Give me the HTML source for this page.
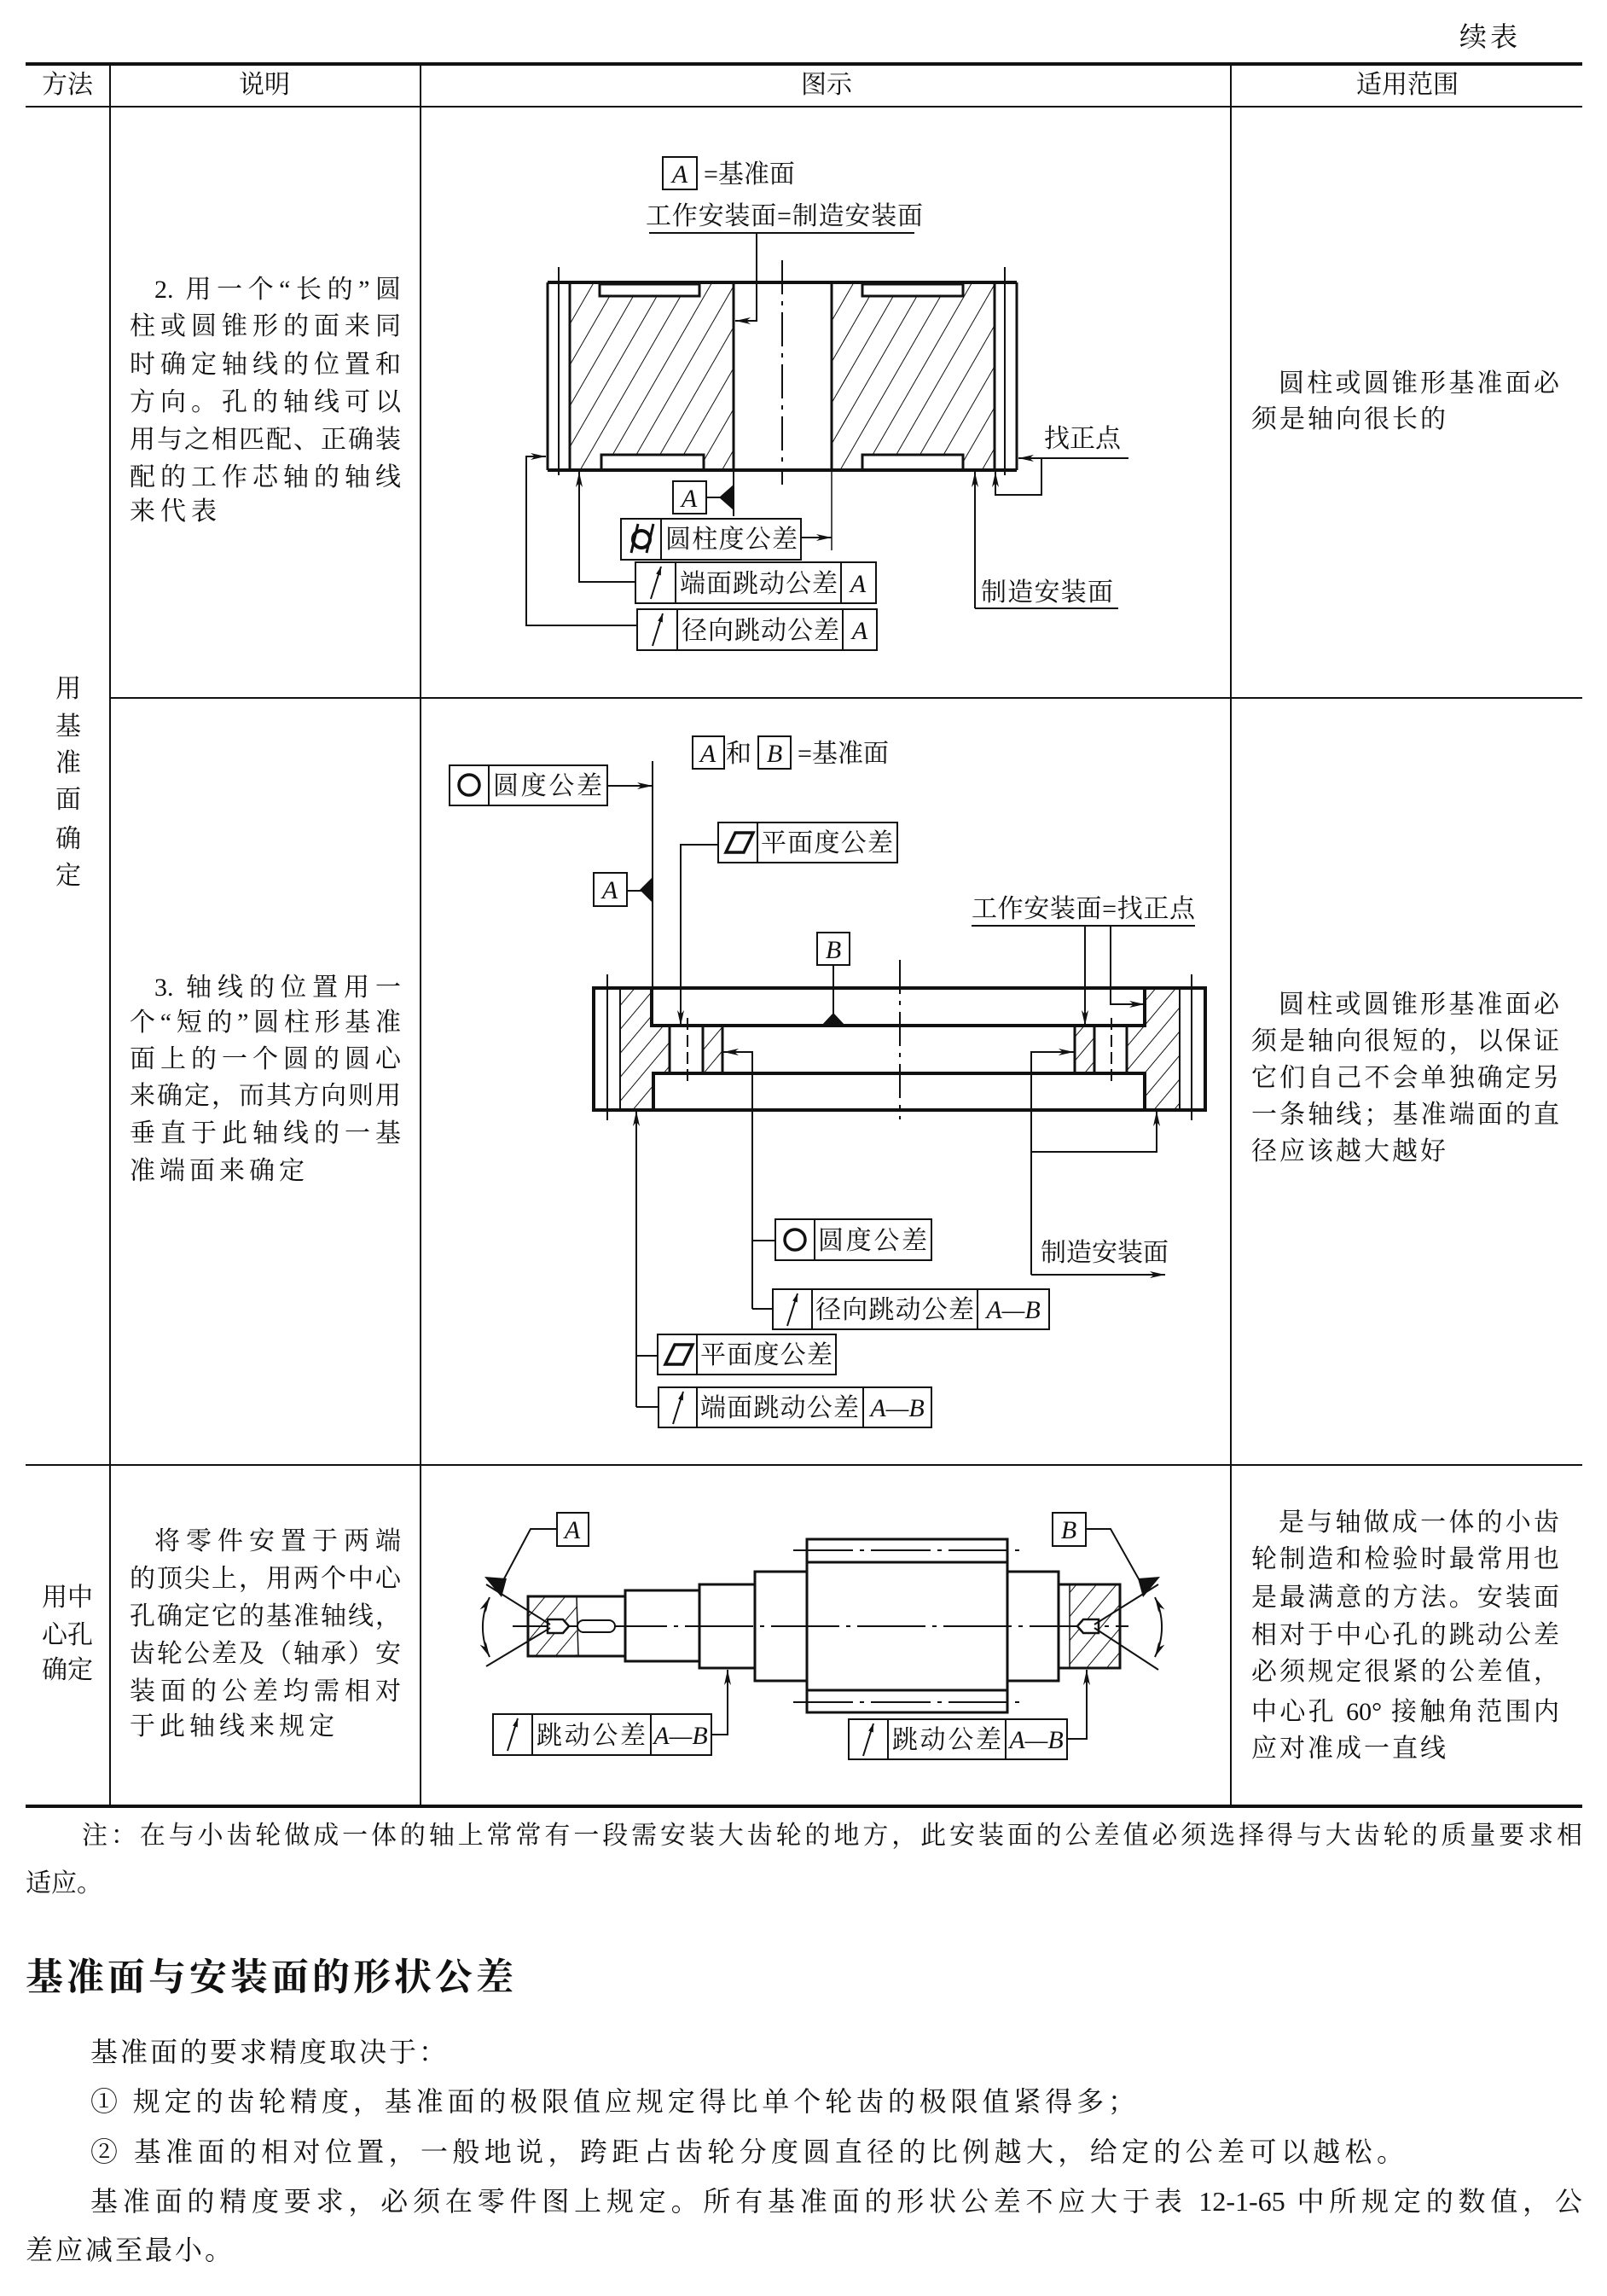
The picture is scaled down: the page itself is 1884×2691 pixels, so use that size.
<!DOCTYPE html>
<html><head><meta charset="utf-8">
<style>
html,body{margin:0;padding:0;background:#fff;}
body{width:1884px;height:2691px;position:relative;overflow:hidden;}
.t{position:absolute;white-space:nowrap;font-family:"Liberation Serif","Noto Serif CJK SC",serif;line-height:1;color:#111;}
.j{text-align:justify;text-align-last:justify;}
.c{font-size:30px;}
.p{font-size:32px;}
svg{position:absolute;left:0;top:0;}
svg text{font-family:"Liberation Serif","Noto Serif CJK SC",serif;fill:#111;}
</style></head><body>
<svg width="1884" height="2691" viewBox="0 0 1884 2691">
<defs>
<marker id="ar" markerWidth="18" markerHeight="8" refX="18" refY="4" orient="auto" markerUnits="userSpaceOnUse"><path d="M0,0 L18,4 L0,8 L5,4Z" fill="#111"/></marker>
<marker id="ars" markerWidth="18" markerHeight="8" refX="0" refY="4" orient="auto" markerUnits="userSpaceOnUse"><path d="M18,0 L0,4 L18,8 L13,4Z" fill="#111"/></marker>
<marker id="sm" markerWidth="10" markerHeight="6" refX="10" refY="3" orient="auto" markerUnits="userSpaceOnUse"><path d="M0,0 L10,3 L0,6Z" fill="#111"/></marker>
<pattern id="h1" width="24" height="24" patternUnits="userSpaceOnUse" patternTransform="rotate(30)"><line x1="0" y1="0" x2="0" y2="24" stroke="#111" stroke-width="2"/></pattern>
<pattern id="h2" width="18" height="18" patternUnits="userSpaceOnUse" patternTransform="rotate(40)"><line x1="0" y1="0" x2="0" y2="18" stroke="#111" stroke-width="2"/></pattern>
</defs>
<g stroke="#111" fill="none">
<line x1="30" y1="75" x2="1855" y2="75" stroke-width="4"/>
<line x1="30" y1="125" x2="1855" y2="125" stroke-width="2"/>
<line x1="128" y1="818" x2="1855" y2="818" stroke-width="2"/>
<line x1="30" y1="1717" x2="1855" y2="1717" stroke-width="2"/>
<line x1="30" y1="2117" x2="1855" y2="2117" stroke-width="4"/>
<line x1="129" y1="75" x2="129" y2="2117" stroke-width="2"/>
<line x1="493" y1="75" x2="493" y2="2117" stroke-width="2"/>
<line x1="1443" y1="75" x2="1443" y2="2117" stroke-width="2"/>

<rect x="668" y="331" width="192" height="220" fill="url(#h1)" stroke="none"/>
<rect x="975" y="331" width="191" height="220" fill="url(#h1)" stroke="none"/>
<rect x="703" y="333" width="117" height="14" fill="#fff" stroke-width="3"/>
<rect x="705" y="533" width="120" height="18" fill="#fff" stroke-width="3"/>
<rect x="1011" y="333" width="118" height="14" fill="#fff" stroke-width="3"/>
<rect x="1011" y="533" width="118" height="18" fill="#fff" stroke-width="3"/>
<line x1="642" y1="331" x2="1192" y2="331" stroke-width="4"/>
<line x1="642" y1="551" x2="1192" y2="551" stroke-width="4"/>
<line x1="642" y1="331" x2="642" y2="551" stroke-width="3"/>
<line x1="668" y1="331" x2="668" y2="551" stroke-width="3"/>
<line x1="860" y1="331" x2="860" y2="551" stroke-width="3"/>
<line x1="975" y1="331" x2="975" y2="551" stroke-width="3"/>
<line x1="1166" y1="331" x2="1166" y2="551" stroke-width="3"/>
<line x1="1192" y1="331" x2="1192" y2="551" stroke-width="3"/>
<line x1="655" y1="313" x2="655" y2="557" stroke-width="2"/>
<line x1="1178" y1="313" x2="1178" y2="557" stroke-width="2"/>
<line x1="917" y1="305" x2="917" y2="568" stroke-width="2" stroke-dasharray="40 8 5 8"/>
<rect x="777" y="184" width="40" height="38" stroke-width="2"/>
<line x1="761" y1="273" x2="1072" y2="273" stroke-width="2"/>
<polyline points="887,273 887,376 862,376" stroke-width="2" marker-end="url(#ar)"/>
<line x1="860" y1="551" x2="860" y2="605" stroke-width="2"/>
<rect x="789" y="564" width="39" height="38" stroke-width="2"/>
<line x1="828" y1="583" x2="845" y2="583" stroke-width="2"/>
<polygon points="860,568 860,598 843,583" fill="#111" stroke="none"/>
<rect x="728" y="608" width="211" height="48" stroke-width="2"/>
<line x1="775" y1="608" x2="775" y2="656" stroke-width="2"/>
<circle cx="752" cy="632" r="10" stroke-width="4"/>
<line x1="740" y1="648" x2="748" y2="614" stroke-width="3"/>
<line x1="758" y1="648" x2="766" y2="614" stroke-width="3"/>
<line x1="939" y1="630" x2="975" y2="630" stroke-width="2" marker-end="url(#ar)"/>
<line x1="975" y1="551" x2="975" y2="645" stroke-width="1.5"/>
<rect x="745" y="659" width="282" height="48" stroke-width="2"/>
<line x1="792" y1="659" x2="792" y2="707" stroke-width="2"/>
<line x1="986" y1="659" x2="986" y2="707" stroke-width="2"/>
<line x1="763" y1="702" x2="775" y2="664" stroke-width="2" marker-end="url(#sm)"/>
<polyline points="745,682 679,682 679,553" stroke-width="2" marker-end="url(#ar)"/>
<rect x="747" y="714" width="281" height="48" stroke-width="2"/>
<line x1="794" y1="714" x2="794" y2="762" stroke-width="2"/>
<line x1="988" y1="714" x2="988" y2="762" stroke-width="2"/>
<line x1="765" y1="757" x2="777" y2="719" stroke-width="2" marker-end="url(#sm)"/>
<polyline points="747,733 617,733 617,535 640,535" stroke-width="2" marker-end="url(#ar)"/>
<line x1="1323" y1="537" x2="1194" y2="537" stroke-width="2" marker-end="url(#ar)"/>
<polyline points="1221,537 1221,580 1167,580 1167,553" stroke-width="2" marker-end="url(#ar)"/>
<line x1="1143" y1="713" x2="1311" y2="713" stroke-width="2"/>
<line x1="1143" y1="713" x2="1143" y2="553" stroke-width="2" marker-end="url(#ar)"/>

<polygon points="727,1158 764,1158 764,1202 785,1202 785,1258 766,1258 766,1301 727,1301" fill="url(#h2)" stroke="none"/>
<polygon points="1383,1158 1342,1158 1342,1202 1321,1202 1321,1258 1342,1258 1342,1301 1383,1301" fill="url(#h2)" stroke="none"/>
<rect x="824" y="1202" width="23" height="56" fill="url(#h2)" stroke="none"/>
<rect x="1260" y="1202" width="23" height="56" fill="url(#h2)" stroke="none"/>
<rect x="696" y="1158" width="717" height="143" stroke-width="4"/>
<line x1="727" y1="1158" x2="727" y2="1301" stroke-width="2"/>
<line x1="1383" y1="1158" x2="1383" y2="1301" stroke-width="2"/>
<polyline points="764,1158 764,1202 1342,1202 1342,1158" stroke-width="4"/>
<polyline points="766,1301 766,1258 1342,1258 1342,1301" stroke-width="4"/>
<line x1="785" y1="1202" x2="785" y2="1258" stroke-width="3"/>
<line x1="824" y1="1202" x2="824" y2="1258" stroke-width="3"/>
<line x1="847" y1="1202" x2="847" y2="1258" stroke-width="3"/>
<line x1="1260" y1="1202" x2="1260" y2="1258" stroke-width="3"/>
<line x1="1283" y1="1202" x2="1283" y2="1258" stroke-width="3"/>
<line x1="1321" y1="1202" x2="1321" y2="1258" stroke-width="3"/>
<line x1="806" y1="1193" x2="806" y2="1270" stroke-width="2" stroke-dasharray="14 6"/>
<line x1="1303" y1="1193" x2="1303" y2="1270" stroke-width="2" stroke-dasharray="14 6"/>
<line x1="712" y1="1142" x2="712" y2="1313" stroke-width="2"/>
<line x1="1397" y1="1142" x2="1397" y2="1313" stroke-width="2"/>
<line x1="1055" y1="1125" x2="1055" y2="1312" stroke-width="2" stroke-dasharray="40 8 5 8"/>
<rect x="958" y="1093" width="38" height="38" stroke-width="2"/>
<line x1="977" y1="1131" x2="977" y2="1190" stroke-width="2"/>
<polygon points="963,1202 991,1202 977,1187" fill="#111" stroke="none"/>
<rect x="812" y="863" width="37" height="38" stroke-width="2"/>
<rect x="889" y="863" width="38" height="38" stroke-width="2"/>
<rect x="527" y="897" width="185" height="47" stroke-width="2"/>
<line x1="573" y1="897" x2="573" y2="944" stroke-width="2"/>
<circle cx="550" cy="920" r="12" stroke-width="3.5"/>
<line x1="712" y1="921" x2="765" y2="921" stroke-width="2" marker-end="url(#ar)"/>
<line x1="765" y1="892" x2="765" y2="1158" stroke-width="2"/>
<rect x="696" y="1023" width="39" height="39" stroke-width="2"/>
<line x1="735" y1="1044" x2="752" y2="1044" stroke-width="2"/>
<polygon points="765,1028 765,1058 750,1043" fill="#111" stroke="none"/>
<rect x="842" y="964" width="210" height="47" stroke-width="2"/>
<line x1="888" y1="964" x2="888" y2="1011" stroke-width="2"/>
<polygon points="851,999 872,999 883,976 862,976" stroke-width="3.5"/>
<polyline points="842,990 798,990 798,1202" stroke-width="2" marker-end="url(#ar)"/>
<line x1="1139" y1="1085" x2="1401" y2="1085" stroke-width="2"/>
<line x1="1272" y1="1085" x2="1272" y2="1202" stroke-width="2" marker-end="url(#ar)"/>
<polyline points="1302,1085 1302,1177 1342,1177" stroke-width="2" marker-end="url(#ar)"/>
<polyline points="882,1534 882,1233 848,1233" stroke-width="2" marker-end="url(#ar)"/>
<line x1="882" y1="1454" x2="909" y2="1454" stroke-width="2"/>
<line x1="882" y1="1534" x2="906" y2="1534" stroke-width="2"/>
<polyline points="1209,1494 1209,1233 1259,1233" stroke-width="2" marker-end="url(#ar)"/>
<line x1="1209" y1="1494" x2="1366" y2="1494" stroke-width="2" marker-end="url(#ar)"/>
<polyline points="1209,1350 1356,1350 1356,1302" stroke-width="2" marker-end="url(#ar)"/>
<line x1="746" y1="1649" x2="746" y2="1302" stroke-width="2" marker-end="url(#ar)"/>
<line x1="746" y1="1589" x2="771" y2="1589" stroke-width="2"/>
<line x1="746" y1="1649" x2="772" y2="1649" stroke-width="2"/>
<rect x="909" y="1429" width="183" height="48" stroke-width="2"/>
<line x1="955" y1="1429" x2="955" y2="1477" stroke-width="2"/>
<circle cx="932" cy="1453" r="12" stroke-width="3.5"/>
<rect x="906" y="1511" width="324" height="47" stroke-width="2"/>
<line x1="952" y1="1511" x2="952" y2="1558" stroke-width="2"/>
<line x1="1146" y1="1511" x2="1146" y2="1558" stroke-width="2"/>
<line x1="923" y1="1554" x2="935" y2="1516" stroke-width="2" marker-end="url(#sm)"/>
<rect x="771" y="1564" width="209" height="47" stroke-width="2"/>
<line x1="817" y1="1564" x2="817" y2="1611" stroke-width="2"/>
<polygon points="780,1599 801,1599 812,1576 791,1576" stroke-width="3.5"/>
<rect x="772" y="1626" width="320" height="47" stroke-width="2"/>
<line x1="817" y1="1626" x2="817" y2="1673" stroke-width="2"/>
<line x1="1012" y1="1626" x2="1012" y2="1673" stroke-width="2"/>
<line x1="789" y1="1669" x2="801" y2="1631" stroke-width="2" marker-end="url(#sm)"/>

<rect x="619" y="1871" width="57" height="70" fill="url(#h2)" stroke="none"/>
<rect x="1254" y="1857" width="59" height="98" fill="url(#h2)" stroke="none"/>
<rect x="619" y="1871" width="114" height="70" stroke-width="3"/>
<line x1="676" y1="1871" x2="678" y2="1941" stroke-width="1.5"/>
<rect x="733" y="1864" width="87" height="83" stroke-width="3"/>
<rect x="820" y="1857" width="65" height="98" stroke-width="3"/>
<rect x="885" y="1842" width="61" height="128" stroke-width="3"/>
<rect x="946" y="1804" width="235" height="203" stroke-width="3"/>
<line x1="946" y1="1831" x2="1181" y2="1831" stroke-width="3"/>
<line x1="946" y1="1981" x2="1181" y2="1981" stroke-width="3"/>
<line x1="930" y1="1817" x2="1195" y2="1817" stroke-width="2" stroke-dasharray="70 8 5 8"/>
<line x1="930" y1="1995" x2="1195" y2="1995" stroke-width="2" stroke-dasharray="70 8 5 8"/>
<rect x="1181" y="1842" width="60" height="128" stroke-width="3"/>
<rect x="1241" y="1857" width="72" height="98" stroke-width="3"/>
<line x1="1254" y1="1857" x2="1254" y2="1955" stroke-width="1.5"/>
<line x1="601" y1="1906" x2="1323" y2="1906" stroke-width="2" stroke-dasharray="80 8 5 8"/>
<rect x="677" y="1899" width="44" height="14" rx="7" stroke-width="2" fill="#fff"/>
<path d="M642,1898 L660,1898 L667,1906 L660,1914 L642,1914 Z" fill="#fff" stroke-width="2.5"/>
<path d="M1288,1898 L1270,1898 L1263,1906 L1270,1914 L1288,1914 Z" fill="#fff" stroke-width="2.5"/>
<line x1="570" y1="1857" x2="645" y2="1904" stroke-width="2"/>
<line x1="570" y1="1953" x2="645" y2="1908" stroke-width="2"/>
<line x1="1358" y1="1857" x2="1283" y2="1904" stroke-width="2"/>
<line x1="1358" y1="1957" x2="1283" y2="1908" stroke-width="2"/>
<path d="M574,1872 A80,80 0 0,0 574,1942" stroke-width="2" marker-start="url(#ars)" marker-end="url(#ar)"/>
<path d="M1354,1872 A80,80 0 0,1 1354,1942" stroke-width="2" marker-start="url(#ars)" marker-end="url(#ar)"/>
<rect x="653" y="1773" width="37" height="39" stroke-width="2"/>
<polyline points="653,1792 622,1792 588,1856" stroke-width="2"/>
<polygon points="568,1848 594,1850 588,1872" fill="#111" stroke="none"/>
<rect x="1234" y="1773" width="39" height="39" stroke-width="2"/>
<polyline points="1273,1792 1302,1792 1338,1856" stroke-width="2"/>
<polygon points="1360,1848 1334,1850 1340,1872" fill="#111" stroke="none"/>
<rect x="578" y="2009" width="256" height="48" stroke-width="2"/>
<line x1="624" y1="2009" x2="624" y2="2057" stroke-width="2"/>
<line x1="763" y1="2009" x2="763" y2="2057" stroke-width="2"/>
<line x1="595" y1="2052" x2="607" y2="2014" stroke-width="2" marker-end="url(#sm)"/>
<polyline points="834,2033 853,2033 853,1957" stroke-width="2" marker-end="url(#ar)"/>
<rect x="995" y="2015" width="256" height="47" stroke-width="2"/>
<line x1="1041" y1="2015" x2="1041" y2="2062" stroke-width="2"/>
<line x1="1179" y1="2015" x2="1179" y2="2062" stroke-width="2"/>
<line x1="1012" y1="2058" x2="1024" y2="2020" stroke-width="2" marker-end="url(#sm)"/>
<polyline points="1251,2038 1274,2038 1274,1957" stroke-width="2" marker-end="url(#ar)"/>
</g>

<g font-size="30">
<text x="797" y="214" text-anchor="middle" font-style="italic">A</text>
<text x="825" y="214">=基准面</text>
<text x="757" y="263" textLength="325">工作安装面=制造安装面</text>
<text x="808" y="594" text-anchor="middle" font-style="italic">A</text>
<text x="780" y="642" textLength="155">圆柱度公差</text>
<text x="797" y="694" textLength="185">端面跳动公差</text>
<text x="1006" y="694" text-anchor="middle" font-style="italic">A</text>
<text x="799" y="749" textLength="185">径向跳动公差</text>
<text x="1008" y="749" text-anchor="middle" font-style="italic">A</text>
<text x="1224" y="524" textLength="90">找正点</text>
<text x="1150" y="704" textLength="155">制造安装面</text>
<text x="830" y="893" text-anchor="middle" font-style="italic">A</text>
<text x="851" y="893">和</text>
<text x="908" y="893" text-anchor="middle" font-style="italic">B</text>
<text x="935" y="893" textLength="107">=基准面</text>
<text x="578" y="931" textLength="128">圆度公差</text>
<text x="892" y="998" textLength="155">平面度公差</text>
<text x="715" y="1053" text-anchor="middle" font-style="italic">A</text>
<text x="977" y="1123" text-anchor="middle" font-style="italic">B</text>
<text x="1139" y="1075" textLength="262">工作安装面=找正点</text>
<text x="959" y="1464" textLength="128">圆度公差</text>
<text x="956" y="1545" textLength="186">径向跳动公差</text>
<text x="1188" y="1545" text-anchor="middle" font-style="italic">A—B</text>
<text x="1220" y="1478" textLength="150">制造安装面</text>
<text x="821" y="1598" textLength="155">平面度公差</text>
<text x="821" y="1660" textLength="186">端面跳动公差</text>
<text x="1052" y="1660" text-anchor="middle" font-style="italic">A—B</text>
<text x="671" y="1803" text-anchor="middle" font-style="italic">A</text>
<text x="1253" y="1803" text-anchor="middle" font-style="italic">B</text>
<text x="629" y="2044" textLength="128">跳动公差</text>
<text x="798" y="2044" text-anchor="middle" font-style="italic">A—B</text>
<text x="1046" y="2049" textLength="128">跳动公差</text>
<text x="1215" y="2049" text-anchor="middle" font-style="italic">A—B</text>
</g>
</svg>

<div class="t" style="font-size:32px;left:1711px;top:27px;letter-spacing:4px;">续表</div>
<div class="t c" style="left:49px;top:85px;">方法</div>
<div class="t c" style="left:280px;top:85px;">说明</div>
<div class="t c" style="left:939px;top:85px;">图示</div>
<div class="t c" style="left:1590px;top:85px;">适用范围</div>

<div class="t c" style="left:65px;top:793px;">用</div>
<div class="t c" style="left:65px;top:837px;">基</div>
<div class="t c" style="left:65px;top:880px;">准</div>
<div class="t c" style="left:65px;top:923px;">面</div>
<div class="t c" style="left:65px;top:969px;">确</div>
<div class="t c" style="left:65px;top:1012px;">定</div>
<div class="t c" style="left:49px;top:1858px;">用中</div>
<div class="t c" style="left:49px;top:1902px;">心孔</div>
<div class="t c" style="left:49px;top:1943px;">确定</div>

<div class="t c j" style="left:181px;top:325px;width:289px;">2. 用一个“长的”圆</div>
<div class="t c j" style="left:152px;top:368px;width:318px;">柱或圆锥形的面来同</div>
<div class="t c j" style="left:152px;top:413px;width:318px;">时确定轴线的位置和</div>
<div class="t c j" style="left:152px;top:457px;width:318px;">方向。孔的轴线可以</div>
<div class="t c j" style="left:152px;top:501px;width:318px;">用与之相匹配、正确装</div>
<div class="t c j" style="left:152px;top:545px;width:318px;">配的工作芯轴的轴线</div>
<div class="t c" style="left:152px;top:585px;letter-spacing:6px;">来代表</div>
<div class="t c j" style="left:1499px;top:435px;width:329px;">圆柱或圆锥形基准面必</div>
<div class="t c" style="left:1467px;top:477px;letter-spacing:3px;">须是轴向很长的</div>

<div class="t c j" style="left:181px;top:1143px;width:289px;">3. 轴线的位置用一</div>
<div class="t c j" style="left:152px;top:1184px;width:318px;">个“短的”圆柱形基准</div>
<div class="t c j" style="left:152px;top:1227px;width:318px;">面上的一个圆的圆心</div>
<div class="t c j" style="left:152px;top:1270px;width:318px;">来确定，而其方向则用</div>
<div class="t c j" style="left:152px;top:1314px;width:318px;">垂直于此轴线的一基</div>
<div class="t c" style="left:152px;top:1358px;letter-spacing:5px;">准端面来确定</div>
<div class="t c j" style="left:1499px;top:1163px;width:329px;">圆柱或圆锥形基准面必</div>
<div class="t c j" style="left:1467px;top:1206px;width:361px;">须是轴向很短的，以保证</div>
<div class="t c j" style="left:1467px;top:1249px;width:361px;">它们自己不会单独确定另</div>
<div class="t c j" style="left:1467px;top:1292px;width:361px;">一条轴线；基准端面的直</div>
<div class="t c" style="left:1467px;top:1335px;letter-spacing:3px;">径应该越大越好</div>

<div class="t c j" style="left:181px;top:1792px;width:289px;">将零件安置于两端</div>
<div class="t c j" style="left:152px;top:1836px;width:318px;">的顶尖上，用两个中心</div>
<div class="t c j" style="left:152px;top:1880px;width:318px;">孔确定它的基准轴线，</div>
<div class="t c j" style="left:152px;top:1924px;width:318px;">齿轮公差及（轴承）安</div>
<div class="t c j" style="left:152px;top:1968px;width:318px;">装面的公差均需相对</div>
<div class="t c" style="left:152px;top:2009px;letter-spacing:5px;">于此轴线来规定</div>
<div class="t c j" style="left:1499px;top:1770px;width:329px;">是与轴做成一体的小齿</div>
<div class="t c j" style="left:1467px;top:1813px;width:361px;">轮制造和检验时最常用也</div>
<div class="t c j" style="left:1467px;top:1858px;width:361px;">是最满意的方法。安装面</div>
<div class="t c j" style="left:1467px;top:1902px;width:361px;">相对于中心孔的跳动公差</div>
<div class="t c j" style="left:1467px;top:1945px;width:361px;">必须规定很紧的公差值，</div>
<div class="t c j" style="left:1467px;top:1992px;width:361px;">中心孔 60° 接触角范围内</div>
<div class="t c" style="left:1467px;top:2035px;letter-spacing:3px;">应对准成一直线</div>

<div class="t j" style="font-size:30px;left:96px;top:2137px;width:1759px;">注：在与小齿轮做成一体的轴上常常有一段需安装大齿轮的地方，此安装面的公差值必须选择得与大齿轮的质量要求相</div>
<div class="t" style="font-size:30px;left:30px;top:2193px;">适应。</div>

<div class="t" style="font-size:44px;font-weight:bold;left:30px;top:2296px;letter-spacing:4px;">基准面与安装面的形状公差</div>

<div class="t p" style="left:106px;top:2389px;letter-spacing:3px;">基准面的要求精度取决于：</div>
<div class="t p j" style="left:106px;top:2447px;width:1225px;">① 规定的齿轮精度，基准面的极限值应规定得比单个轮齿的极限值紧得多；</div>
<div class="t p j" style="left:106px;top:2506px;width:1540px;">② 基准面的相对位置，一般地说，跨距占齿轮分度圆直径的比例越大，给定的公差可以越松。</div>
<div class="t p j" style="left:106px;top:2564px;width:1749px;">基准面的精度要求，必须在零件图上规定。所有基准面的形状公差不应大于表 12-1-65 中所规定的数值，公</div>
<div class="t p" style="left:30px;top:2621px;letter-spacing:3px;">差应减至最小。</div>
</body></html>
